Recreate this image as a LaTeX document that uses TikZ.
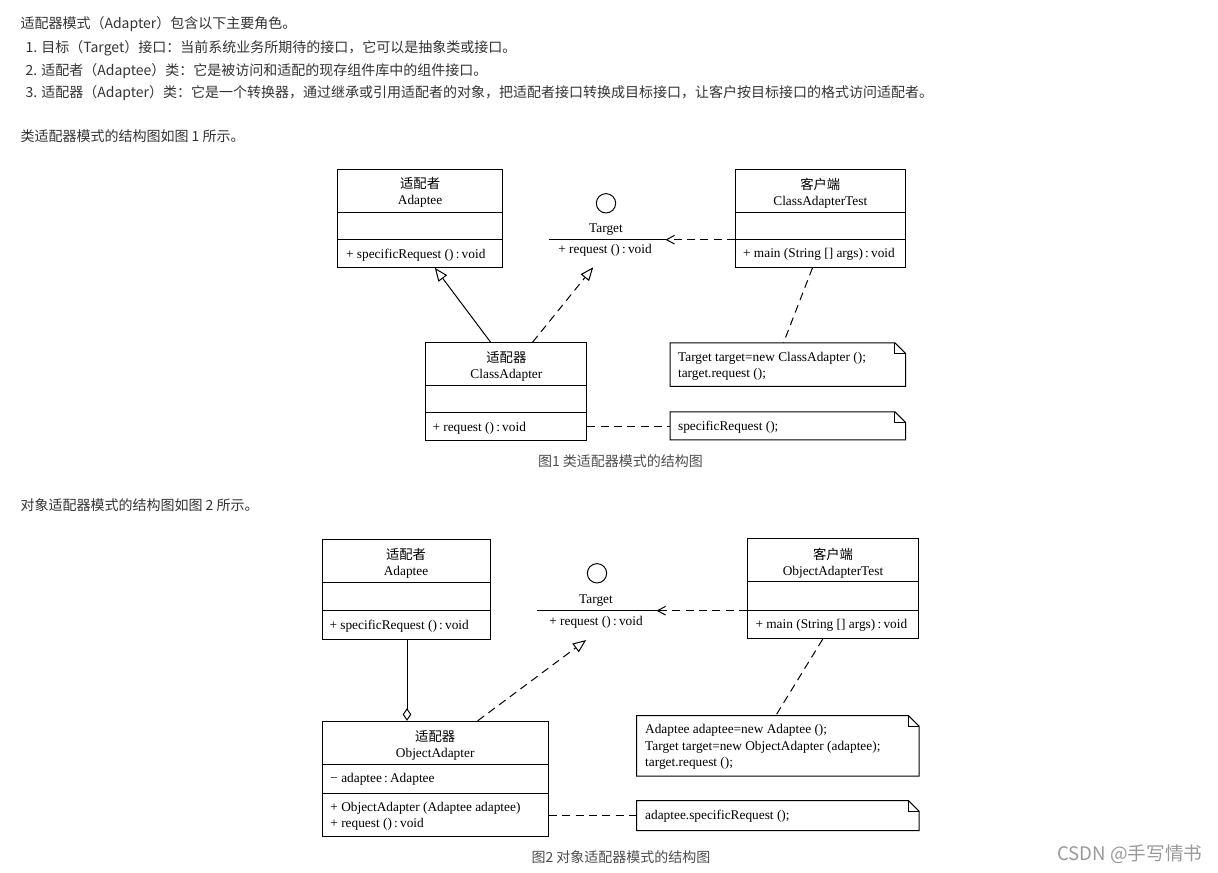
\documentclass[tikz,border=0pt]{standalone}
\usepackage{fontspec}
\setmainfont{Liberation Serif}
\newfontfamily\cjk{Noto Sans CJK SC}
\usetikzlibrary{arrows.meta,fit,positioning}
\definecolor{bodytext}{HTML}{333333}
\definecolor{captext}{HTML}{4D4D4D}
\definecolor{marktext}{HTML}{999999}
\tikzstyle{para}=[anchor=west, inner sep=0pt, yshift=-1.5pt, text=bodytext, font=\cjk\fontsize{10.5}{13}\selectfont]
\tikzstyle{caption}=[inner sep=0pt, yshift=-0.8pt, text=captext, font=\cjk\fontsize{10.5}{13}\selectfont]
\tikzstyle{classbox}=[draw, rectangle, inner sep=0pt]
\tikzstyle{notebox}=[rectangle, inner sep=0pt]
\tikzstyle{title}=[inner sep=0pt, yshift=-1.1pt, align=center, font=\fontsize{10}{12}\selectfont]
\tikzstyle{member}=[anchor=west, inner sep=0pt, yshift=-1.1pt, align=left, font=\fontsize{10}{12.3}\selectfont]
\tikzstyle{iface}=[circle, draw, inner sep=0pt, minimum size=14.5pt]
\tikzstyle{link}=[dash pattern=on 6pt off 4pt]
\tikzstyle{dep}=[link, -{Straight Barb[length=6pt,width=6.5pt]}]
\tikzstyle{gen}=[-{Triangle[open,length=10pt,width=8pt]}]
\tikzstyle{real}=[link, -{Triangle[open,length=10pt,width=8pt]}]
\tikzstyle{agg}=[-{Diamond[open,length=9.5pt,width=6.5pt]}]
\newcommand{\member}{\node[member]}
\newcommand{\divider}[2]{\draw (#1.west |- 0,#2) -- (#1.east |- 0,#2);}
\newcommand{\drawnote}[1]{%
  \draw (#1.north west) -- ([xshift=-8pt]#1.north east) -- ([yshift=-8pt]#1.north east)
    -- (#1.south east) -- (#1.south west) -- cycle;
  \draw ([xshift=-8pt]#1.north east) |- ([yshift=-8pt]#1.north east);}

\begin{document}
\begin{tikzpicture}[x=0.75pt, y=-0.75pt, line width=0.75pt]
\useasboundingbox (0,0) rectangle (1218,873);

% text above the figures
\node[para] (intro) at (20,22) {适配器模式（Adapter）包含以下主要角色。};
\node[para] (role1) at (25,46) {1. 目标（Target）接口：当前系统业务所期待的接口，它可以是抽象类或接口。};
\node[para] (role2) at (25,69) {2. 适配者（Adaptee）类：它是被访问和适配的现存组件库中的组件接口。};
\node[para] (role3) at (25,91) {3. 适配器（Adapter）类：它是一个转换器，通过继承或引用适配者的对象，把适配者接口转换成目标接口，让客户按目标接口的格式访问适配者。};
\node[para] (lead1) at (20,134) {类适配器模式的结构图如图 1 所示。};

% figure 1: class adapter
\node[classbox, fit={(337.4,169.3) (502.9,267.3)}] (adaptee1) {};
\node[title] (adaptee1name) at (420.1,191.3) {{\cjk 适配者}\\Adaptee};
\divider{adaptee1}{212.3}
\divider{adaptee1}{239.7}
\member (adaptee1op) at (345.6,253.3) {+ specificRequest ()\,:\,void};

\node[iface] (target1) at (606,203.3) {};
\node[title] (target1name) at (606,228.3) {Target};
\coordinate (target1w) at (548.6,239.7);
\coordinate (target1e) at (665.5,239.7);
\draw (target1w) -- (target1e);
\node[title] (target1op) at (605,249.3) {+ request ()\,:\,void};
\coordinate (target1tip) at (593.2,267.3);

\node[classbox, fit={(735.6,169.3) (905,267.3)}] (client1) {};
\node[title] (client1name) at (820.3,191.3) {{\cjk 客户端}\\ClassAdapterTest};
\divider{client1}{212.3}
\divider{client1}{239.7}
\member (client1op) at (742.6,253.3) {+ main (String [] args)\,:\,void};

\node[classbox, fit={(425.9,342.7) (586.9,440.7)}] (adapter1) {};
\node[title] (adapter1name) at (506.4,364.8) {{\cjk 适配器}\\ClassAdapter};
\divider{adapter1}{385.3}
\divider{adapter1}{412.7}
\member (adapter1op) at (432,426.7) {+ request ()\,:\,void};

\node[notebox, fit={(670.5,343.3) (905,386)}] (note1) {};
\drawnote{note1}
\member (note1txt) at (677.6,364.7) {Target target=new ClassAdapter ();\\target.request ();};
\node[notebox, fit={(670.5,412.3) (905,439.3)}] (note2) {};
\drawnote{note2}
\member (note2txt) at (677.6,425.7) {specificRequest ();};

\draw[dep] (client1.west |- target1e) -- (target1e);
\draw[gen] (adapter1.north -| 490.6,0) -- (adaptee1.south -| 434.8,0);
\draw[real] (adapter1.north -| 532.6,0) -- (target1tip);
\draw[link] (client1.south -| 812.5,0) -- (note1.north -| 783.5,0);
\draw[link] (adapter1.east |- 0,426.7) -- (note2.west |- 0,426.7);

\node[caption] (cap1) at (620.5,460) {图1 类适配器模式的结构图};
\node[para] (lead2) at (20,503) {对象适配器模式的结构图如图 2 所示。};

% figure 2: object adapter
\node[classbox, fit={(322,539.3) (490,639)}] (adaptee2) {};
\node[title] (adaptee2name) at (406,562.3) {{\cjk 适配者}\\Adaptee};
\divider{adaptee2}{582.3}
\divider{adaptee2}{610.3}
\member (adaptee2op) at (329,624.7) {+ specificRequest ()\,:\,void};

\node[iface] (target2) at (597,573.3) {};
\node[title] (target2name) at (596,599.3) {Target};
\coordinate (target2w) at (537.3,610.7);
\coordinate (target2e) at (656.5,610.7);
\draw (target2w) -- (target2e);
\node[title] (target2op) at (596,620.7) {+ request ()\,:\,void};
\coordinate (target2tip) at (586.2,640);

\node[classbox, fit={(747.6,539) (918.5,638.7)}] (client2) {};
\node[title] (client2name) at (833,561.3) {{\cjk 客户端}\\ObjectAdapterTest};
\divider{client2}{581.7}
\divider{client2}{610}
\member (client2op) at (755,624.3) {+ main (String [] args)\,:\,void};

\node[classbox, fit={(322,721.3) (548.5,836.7)}] (adapter2) {};
\node[title] (adapter2name) at (435.2,743.8) {{\cjk 适配器}\\ObjectAdapter};
\divider{adapter2}{764.3}
\divider{adapter2}{793.3}
\member (adapter2attr) at (329.9,778.3) {\textminus\ adaptee\,:\,Adaptee};
\member (adapter2op) at (329.9,815) {+ ObjectAdapter (Adaptee adaptee)\\+ request ()\,:\,void};

\node[notebox, fit={(637.1,716) (918.5,775.7)}] (note3) {};
\drawnote{note3}
\member (note3txt) at (644.7,745.5) {Adaptee adaptee=new Adaptee ();\\Target target=new ObjectAdapter (adaptee);\\target.request ();};
\node[notebox, fit={(637.1,801) (918.5,830)}] (note4) {};
\drawnote{note4}
\member (note4txt) at (644.7,815) {adaptee.specificRequest ();};

\draw[agg] (adaptee2.south -| 407,0) -- (adapter2.north -| 407,0);
\draw[dep] (client2.west |- target2e) -- (target2e);
\draw[real] (adapter2.north -| 477.7,0) -- (target2tip);
\draw[link] (client2.south -| 822.7,0) -- (note3.north -| 775.8,0);
\draw[link] (adapter2.east |- 0,815) -- (note4.west |- 0,815);

\node[caption] (cap2) at (621,856) {图2 对象适配器模式的结构图};

\node[anchor=east, inner sep=0pt, text=marktext, font=\cjk\fontsize{14}{16}\selectfont] (mark) at (1203,854) {CSDN @手写情书};
\end{tikzpicture}
\end{document}
